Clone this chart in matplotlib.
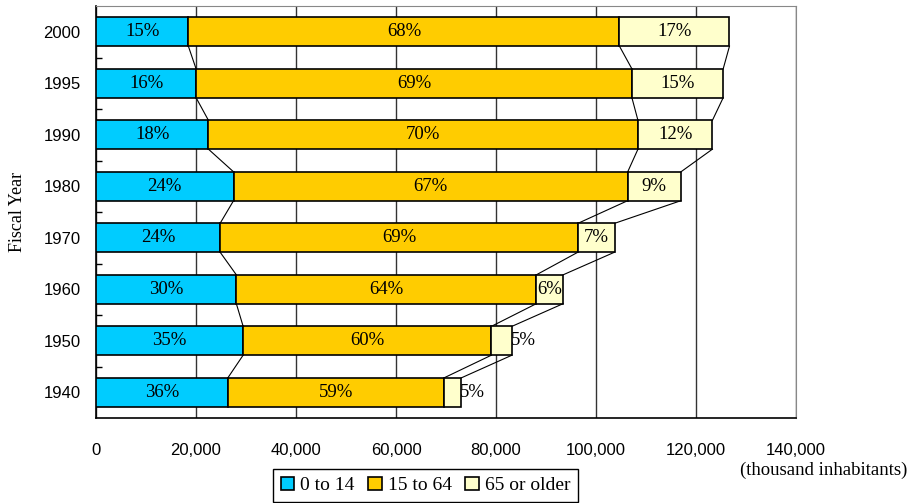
import numpy as np
import matplotlib.pyplot as plt
from matplotlib.patches import Patch
from matplotlib.ticker import MultipleLocator, FixedLocator, FuncFormatter

# population by age group (thousand inhabitants)
years = [1940, 1950, 1960, 1970, 1980, 1990, 1995, 2000]
age_0_14 = [26369, 29428, 28067, 24823, 27507, 22486, 20014, 18472]
age_15_64 = [43252, 49658, 60002, 71566, 78835, 85904, 87165, 86220]
age_65_up = [3454, 4109, 5350, 7331, 10647, 14895, 18261, 22005]
group_names = ["0 to 14", "15 to 64", "65 or older"]
group_colors = ["#00CCFF", "#FFCC00", "#FFFFCC"]

serif = "Liberation Serif"
sans = "Liberation Sans"

groups = np.array([age_0_14, age_15_64, age_65_up], dtype=float)
totals = groups.sum(axis=0)
lefts = np.vstack([np.zeros(len(years)), np.cumsum(groups, axis=0)[:-1]])
rights = np.cumsum(groups, axis=0)
ypos = np.arange(len(years))
bar_h = 0.56

fig = plt.figure(figsize=(9.08, 5.03), dpi=100)
ax = fig.add_axes([96 / 908, 1 - 418 / 503, 700 / 908, 412 / 503])

for g in range(3):
    ax.barh(ypos, groups[g], left=lefts[g], height=bar_h, color=group_colors[g],
            edgecolor="black", linewidth=1.2, zorder=3)

# series lines joining the stacked edges of neighbouring bars
for g in range(3):
    for i in range(len(years) - 1):
        ax.plot([rights[g][i], rights[g][i + 1]],
                [ypos[i] + bar_h / 2, ypos[i + 1] - bar_h / 2],
                color="black", linewidth=0.8, zorder=2)

# percentage labels
for g in range(3):
    for i, yr in enumerate(years):
        pct = f"{round(100 * groups[g][i] / totals[i]):.0f}%"
        if g == 2 and yr in (1940, 1950):
            ax.text(rights[g][i] - 300, ypos[i], pct, ha="left", va="center",
                    family=serif, fontsize=13.5, zorder=4)
        else:
            ax.text((lefts[g][i] + rights[g][i]) / 2, ypos[i], pct, ha="center",
                    va="center", family=serif, fontsize=13.5, zorder=4)

ax.set_xlim(0, 140000)
ax.set_ylim(-0.5, len(years) - 0.5)
ax.xaxis.set_major_locator(MultipleLocator(20000))
ax.xaxis.set_major_formatter(FuncFormatter(lambda v, p: f"{v:,.0f}"))
ax.grid(axis="x", color="#333333", linewidth=1.0, zorder=0)
ax.set_axisbelow(True)

ax.set_yticks(ypos)
ax.set_yticklabels([str(y) for y in years])
ax.yaxis.set_minor_locator(FixedLocator(np.arange(0.5, len(years) - 1, 1.0)))
ax.tick_params(axis="y", which="major", length=0, pad=11, labelsize=12)
ax.tick_params(axis="y", which="minor", direction="in", length=4, width=1, color="black")
ax.tick_params(axis="x", length=0, pad=18, labelsize=12)
for lab in ax.get_xticklabels() + ax.get_yticklabels():
    lab.set_family(sans)

ax.spines["left"].set_color("black")
ax.spines["bottom"].set_color("black")
ax.spines["left"].set_linewidth(1.2)
ax.spines["bottom"].set_linewidth(1.2)
ax.spines["top"].set_color("#888888")
ax.spines["right"].set_color("#888888")

ax.set_ylabel("Fiscal Year", family=serif, fontsize=13)
ax.yaxis.set_label_coords(-0.1, 0.5)

fig.text(0.999, 1 - 470 / 503, "(thousand inhabitants)", ha="right", va="center",
         family=serif, fontsize=13.5)

handles = [Patch(facecolor=c, edgecolor="black", linewidth=1.2) for c in group_colors]
fig.legend(handles, group_names, loc="upper left", bbox_to_anchor=(273 / 908, 1 - 469 / 503),
           ncol=3, frameon=True, fancybox=False, edgecolor="black", framealpha=1,
           prop={"family": serif, "size": 14}, handlelength=0.7, handleheight=0.7,
           handletextpad=0.3, columnspacing=0.7, borderpad=0.4, borderaxespad=0)

fig.savefig("out.png", dpi=100)
